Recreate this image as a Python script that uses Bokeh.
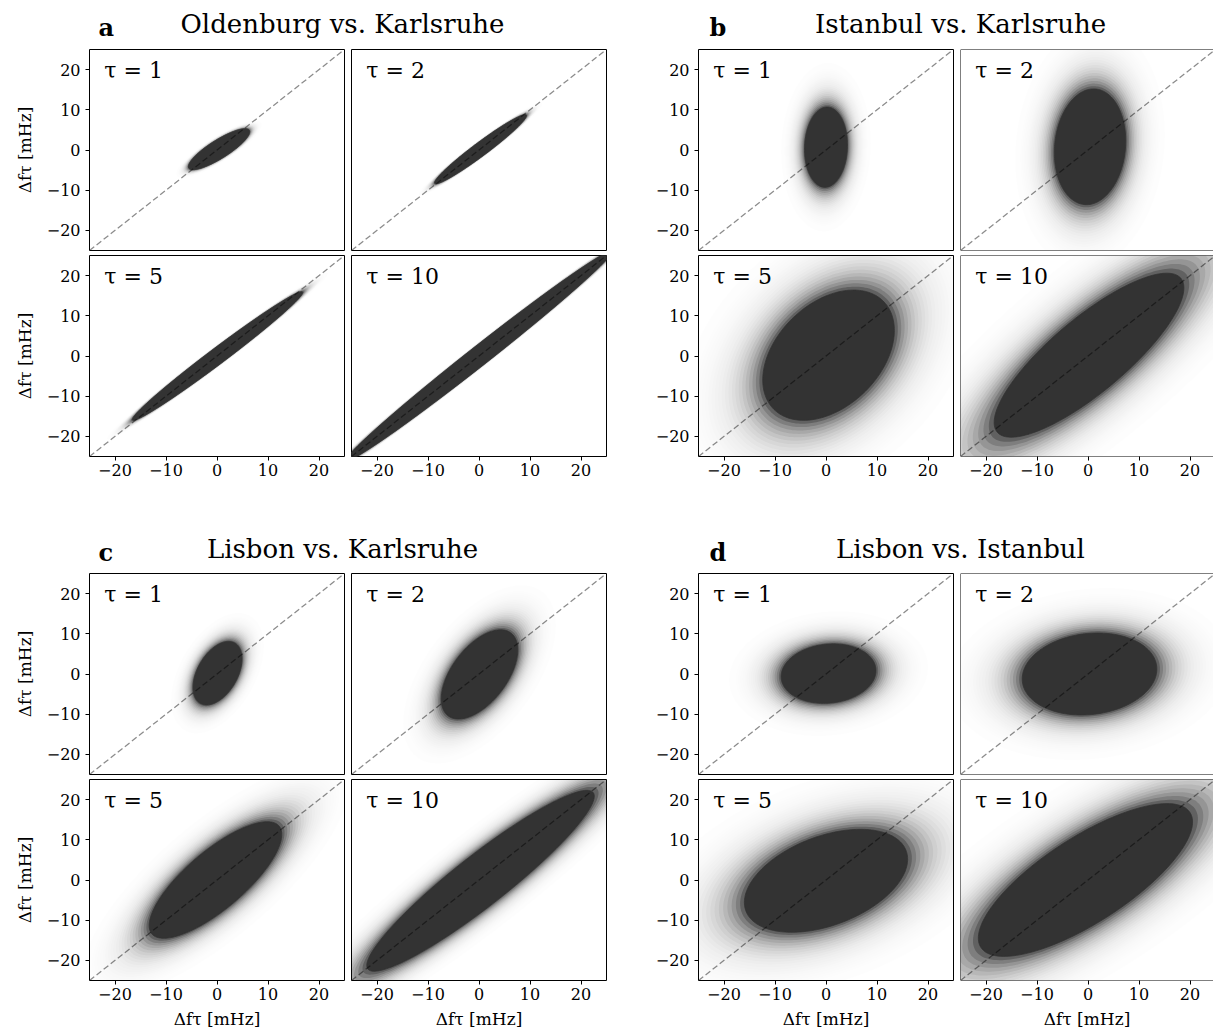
import numpy as np
from bokeh.plotting import figure
from bokeh.models import Range1d, FixedTicker, Label, Slope, Span, ColumnDataSource
from bokeh.layouts import column, row
from bokeh.embed import file_html
from bokeh.resources import INLINE

# ---------------- data ----------------
PANEL_LETTERS = ["a", "b", "c", "d"]
PANEL_TITLES = ["Oldenburg vs. Karlsruhe", "Istanbul vs. Karlsruhe",
                "Lisbon vs. Karlsruhe", "Lisbon vs. Istanbul"]
TAUS = [1, 2, 5, 10]
TICKS = [-20, -10, 0, 10, 20]
TICK_LABELS = ["−20", "−10", "0", "10", "20"]
AXIS_LABEL = "Δfτ [mHz]"
AX_LIM = 25

# dense core of each point cloud (order: tau = 1, 2, 5, 10)
# centre x / y, half extent along x / y [mHz], correlation,
# and relative width of the sparse fringe around the core
A_CX = [0.4, 0.3, 0.1, 0.0]
A_CY = [0.2, 0.2, 0.0, 0.0]
A_SX = [6.0, 9.0, 16.7, 26.0]
A_SY = [5.1, 8.6, 16.0, 26.0]
A_RHO = [0.85, 0.97, 0.988, 0.993]
A_FRINGE = [0.08, 0.07, 0.06, 0.05]

B_CX = [0.0, 0.4, 0.5, 0.2]
B_CY = [0.7, 0.8, 0.2, 0.2]
B_SX = [4.2, 7.0, 12.9, 18.6]
B_SY = [10.0, 14.4, 16.2, 20.4]
B_RHO = [0.05, 0.1, 0.38, 0.82]
B_FRINGE = [0.22, 0.22, 0.25, 0.27]

C_CX = [0.1, 0.1, -0.3, 0.3]
C_CY = [0.2, -0.1, 0.0, -0.2]
C_SX = [4.8, 7.5, 13.0, 22.3]
C_SY = [7.9, 11.1, 14.5, 22.5]
C_RHO = [0.45, 0.55, 0.78, 0.935]
C_FRINGE = [0.18, 0.2, 0.2, 0.18]

D_CX = [0.5, 0.3, 0.0, -0.5]
D_CY = [0.1, 0.0, -0.2, 0.0]
D_SX = [9.3, 13.2, 16.0, 21.0]
D_SY = [7.4, 10.2, 12.8, 19.0]
D_RHO = [0.1, 0.12, 0.42, 0.76]
D_FRINGE = [0.22, 0.22, 0.25, 0.24]

CLOUDS = [
    (A_CX, A_CY, A_SX, A_SY, A_RHO, A_FRINGE),
    (B_CX, B_CY, B_SX, B_SY, B_RHO, B_FRINGE),
    (C_CX, C_CY, C_SX, C_SY, C_RHO, C_FRINGE),
    (D_CX, D_CY, D_SX, D_SY, D_RHO, D_FRINGE),
]

# ---------------- styling ----------------
FONT = "DejaVu Serif"
CLOUD_COLOR = "#333333"
N_LAYERS = 24

LEFT = [89, 1, 91, 1]
RIGHT = [6, 1, 6, 0]
FW = [255, 255, 255, 253]
TOP = [1, 1, 1, 1]
BOTTOM = [4, 40, 4, 55]
FH = 201

T = np.linspace(0, 2 * np.pi, 181)


def halo_layers(fringe):
    """scales and alphas of nested layers giving a soft fringe outside the core"""
    ks = np.linspace(1.0, 1.0 + 5 * fringe, N_LAYERS + 1)[1:]
    step = ks[1] - ks[0]
    cov = np.clip(0.85 * np.exp(-(ks - 1.0 - step / 2) / fringe), 0, 0.95)
    alphas, outer = [], 0.0
    for c in cov[::-1]:
        alphas.append(max(1 - (1 - c) / (1 - outer), 0.0))
        outer = c
    return list(ks[::-1]) + [1.0], alphas + [1.0]


def outline(cx, cy, sx, sy, rho, k):
    xs = cx + k * sx * np.cos(T)
    ys = cy + k * sy * (rho * np.cos(T) + np.sqrt(1 - rho ** 2) * np.sin(T))
    return xs.tolist(), ys.tolist()


def make_panel(R, C, g, k):
    cx, cy, sx, sy, rho, fringe = (arr[k] for arr in CLOUDS[g])
    fw = FW[C]
    p = figure(frame_width=fw, frame_height=FH,
               x_range=Range1d(-AX_LIM, -AX_LIM + 2 * AX_LIM * fw / 255),
               y_range=Range1d(-AX_LIM, AX_LIM),
               output_backend="svg", toolbar_location=None,
               min_border_left=LEFT[C], min_border_right=RIGHT[C],
               min_border_top=TOP[R], min_border_bottom=BOTTOM[R],
               background_fill_color="white", border_fill_color="white")
    p.grid.visible = False
    if C == 3:
        p.outline_line_color = None
        for loc, dim in [(-AX_LIM, "height"), (AX_LIM, "width"), (-AX_LIM, "width")]:
            p.add_layout(Span(location=loc, dimension=dim, line_color="black", line_width=1))
    else:
        p.outline_line_color = "black"
        p.outline_line_width = 1
        p.outline_line_alpha = 1

    scales, alphas = halo_layers(fringe)
    xs, ys = [], []
    for s in scales:
        x, y = outline(cx, cy, sx, sy, rho, s)
        xs.append(x); ys.append(y)
    line_alpha = [0.0] * (len(scales) - 1) + [1.0]
    src = ColumnDataSource(dict(xs=xs, ys=ys, alpha=[float(a) for a in alphas],
                                lalpha=line_alpha))
    p.patches("xs", "ys", source=src, fill_color=CLOUD_COLOR, fill_alpha="alpha",
              line_color=CLOUD_COLOR, line_alpha="lalpha", line_width=0.8)

    p.add_layout(Slope(gradient=1, y_intercept=0, line_color="black", line_alpha=0.45,
                       line_dash="6 3", line_width=1.3))
    p.add_layout(Label(x=-22.1, y=19.8, text=f"τ = {TAUS[k]}", text_baseline="middle",
                       text_font=FONT, text_font_size="22px", text_color="black"))

    for ax in list(p.xaxis) + list(p.yaxis):
        ax.ticker = FixedTicker(ticks=TICKS)
        ax.major_label_overrides = dict(zip(TICKS, TICK_LABELS))
        ax.axis_line_color = None
        ax.major_tick_out = 4
        ax.major_tick_in = 0
        ax.major_tick_line_color = "black"
        ax.minor_tick_line_color = None
        ax.major_label_text_font = FONT
        ax.major_label_text_font_size = "16px"
        ax.major_label_text_color = "black"
        ax.axis_label_text_font = FONT
        ax.axis_label_text_font_size = "17px"
        ax.axis_label_text_font_style = "normal"
        ax.axis_label_text_color = "black"
    p.xaxis.major_label_standoff = 3
    p.yaxis.major_label_standoff = 5
    p.xaxis.visible = R in (1, 3)
    p.yaxis.visible = C in (0, 2)
    if R == 3:
        p.xaxis.axis_label = AXIS_LABEL
        p.xaxis.axis_label_standoff = 6
    if C == 0:
        p.yaxis.axis_label = AXIS_LABEL
        p.yaxis.axis_label_standoff = 9
    return p


TOTAL_W = sum(LEFT) + sum(RIGHT) + sum(FW)


def title_band(height, title_mid, letter_mid, groups):
    p = figure(width=TOTAL_W, height=height,
               x_range=Range1d(0, TOTAL_W), y_range=Range1d(height, 0),
               output_backend="svg", toolbar_location=None,
               min_border_left=0, min_border_right=0, min_border_top=0, min_border_bottom=0,
               background_fill_color="white", border_fill_color="white")
    p.axis.visible = False
    p.grid.visible = False
    p.outline_line_color = None
    letter_x = [98, 709]
    title_x = [342, 960]
    for i, g in enumerate(groups):
        p.add_layout(Label(x=letter_x[i], y=letter_mid, text=PANEL_LETTERS[g],
                           text_font=FONT, text_font_size="24px", text_font_style="bold",
                           text_baseline="middle", text_color="black"))
        p.add_layout(Label(x=title_x[i], y=title_mid, text=PANEL_TITLES[g],
                           text_font=FONT, text_font_size="26px", text_align="center",
                           text_baseline="middle", text_color="black"))
    return p


grid = [[None] * 4 for _ in range(4)]
for g in range(4):
    for k in range(4):
        R = 2 * (g // 2) + k // 2
        C = 2 * (g % 2) + k % 2
        grid[R][C] = make_panel(R, C, g, k)

layout = column(
    title_band(48, 23.5, 27, [0, 1]),
    row(*grid[0]),
    row(*grid[1]),
    title_band(76, 52, 56, [2, 3]),
    row(*grid[2]),
    row(*grid[3]),
)

open("out.html", "w").write(file_html(layout, INLINE))
